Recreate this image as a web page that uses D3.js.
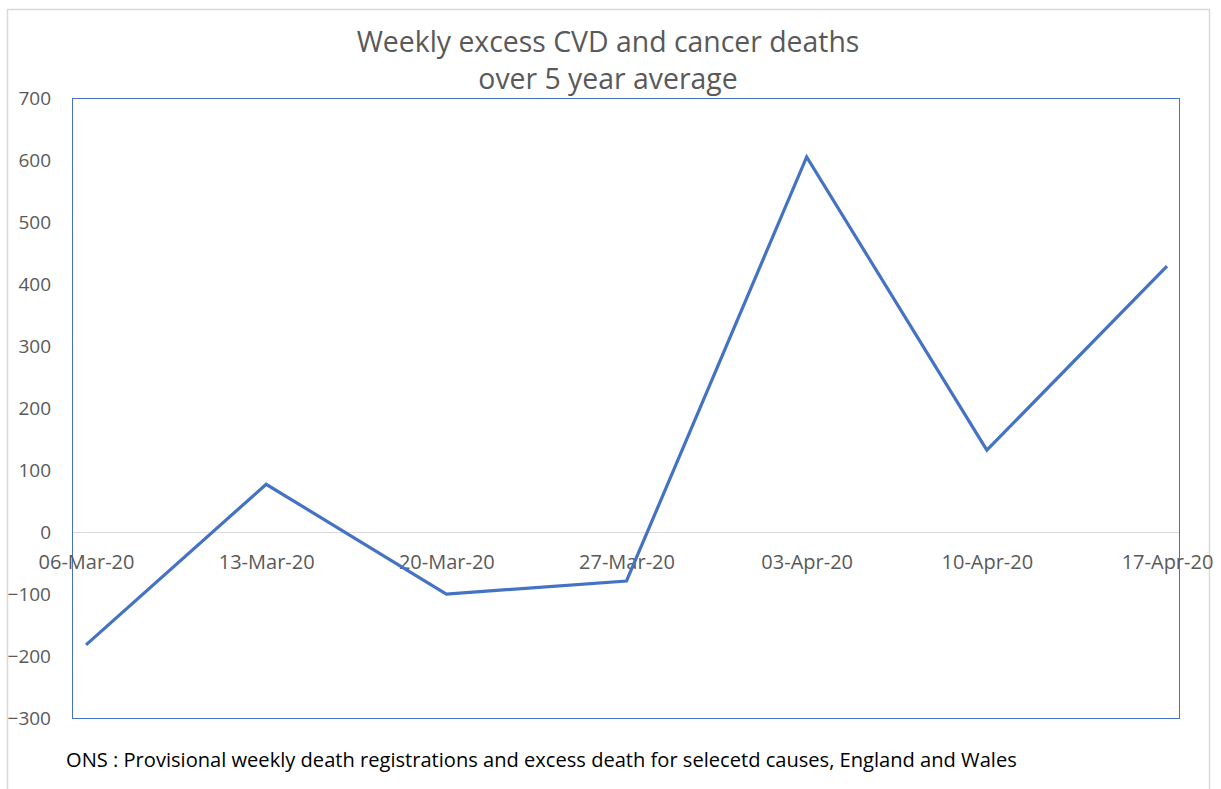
<!DOCTYPE html>
<html>
<head>
<meta charset="utf-8">
<script src="https://cdn.jsdelivr.net/npm/d3@7"></script>
<style>
  html, body { margin: 0; padding: 0; background: #fff; }
  svg { display: block; }
  text { font-family: "Open Sans", "Lato", sans-serif; }
</style>
</head>
<body>
<svg id="chart" width="1221" height="789"></svg>
<script>
const categories = ["06-Mar-20", "13-Mar-20", "20-Mar-20", "27-Mar-20", "03-Apr-20", "10-Apr-20", "17-Apr-20"];
const excessDeaths = [-182, 77, -100, -79, 605, 132, 429];
const yTicks = [-300, -200, -100, 0, 100, 200, 300, 400, 500, 600, 700];
const titleLines = ["Weekly excess CVD and cancer deaths", "over 5 year average"];
const sourceNote = "ONS : Provisional weekly death registrations and excess death for selecetd causes, England and Wales";

const svg = d3.select("#chart");
const plot = { left: 72, top: 98, right: 1179, bottom: 718 };
const FONT = "'Open Sans', Lato, sans-serif";

// outer chart border
svg.append("rect")
  .attr("x", 7.5).attr("y", 9.5)
  .attr("width", 1202).attr("height", 800)
  .attr("fill", "#fff").attr("stroke", "#D9D9D9").attr("stroke-width", 1.5);

const x = d3.scalePoint().domain(categories).range([86, 1167]);
const y = d3.scaleLinear().domain([-300, 700]).range([plot.bottom, plot.top]);

// title
svg.append("g").selectAll("text").data(titleLines).join("text")
  .attr("x", 608).attr("y", (d, i) => 52 + i * 37)
  .attr("text-anchor", "middle")
  .attr("font-size", 28.4)
  .attr("fill", "#595959")
  .text(d => d);

// plot area border
svg.append("rect")
  .attr("x", plot.left + 0.5).attr("y", plot.top + 0.5)
  .attr("width", plot.right - plot.left).attr("height", plot.bottom - plot.top)
  .attr("fill", "none").attr("stroke", "#4472C4").attr("stroke-width", 1);

// zero line
svg.append("line")
  .attr("x1", plot.left + 1).attr("x2", plot.right)
  .attr("y1", Math.round(y(0)) + 0.5).attr("y2", Math.round(y(0)) + 0.5)
  .attr("stroke", "#D9D9D9").attr("stroke-width", 1.2);

// y axis labels
const yAxis = d3.axisLeft(y).tickValues(yTicks).tickSize(0).tickPadding(0).tickFormat(d3.format("d"));
const yg = svg.append("g").attr("transform", "translate(51,0)").call(yAxis);
yg.select(".domain").remove();
yg.selectAll("text")
  .attr("font-size", 19).attr("fill", "#595959")
  .style("font-family", FONT);

// x axis labels (at zero line)
const xAxis = d3.axisBottom(x).tickSize(0).tickPadding(0);
const xg = svg.append("g").attr("transform", `translate(0,${y(0)})`).call(xAxis);
xg.select(".domain").remove();
xg.selectAll("text")
  .attr("y", 37).attr("dy", null)
  .attr("font-size", 20).attr("fill", "#595959")
  .style("font-family", FONT);

// line
const line = d3.line().x((d, i) => x(categories[i])).y(d => y(d));
svg.append("path")
  .datum(excessDeaths)
  .attr("d", line)
  .attr("fill", "none")
  .attr("stroke", "#4472C4")
  .attr("stroke-width", 3.2)
  .attr("stroke-linejoin", "miter");

// source note
svg.append("text")
  .attr("x", 66).attr("y", 767)
  .attr("font-size", 20.1)
  .attr("fill", "#000")
  .text(sourceNote);
</script>
</body>
</html>
